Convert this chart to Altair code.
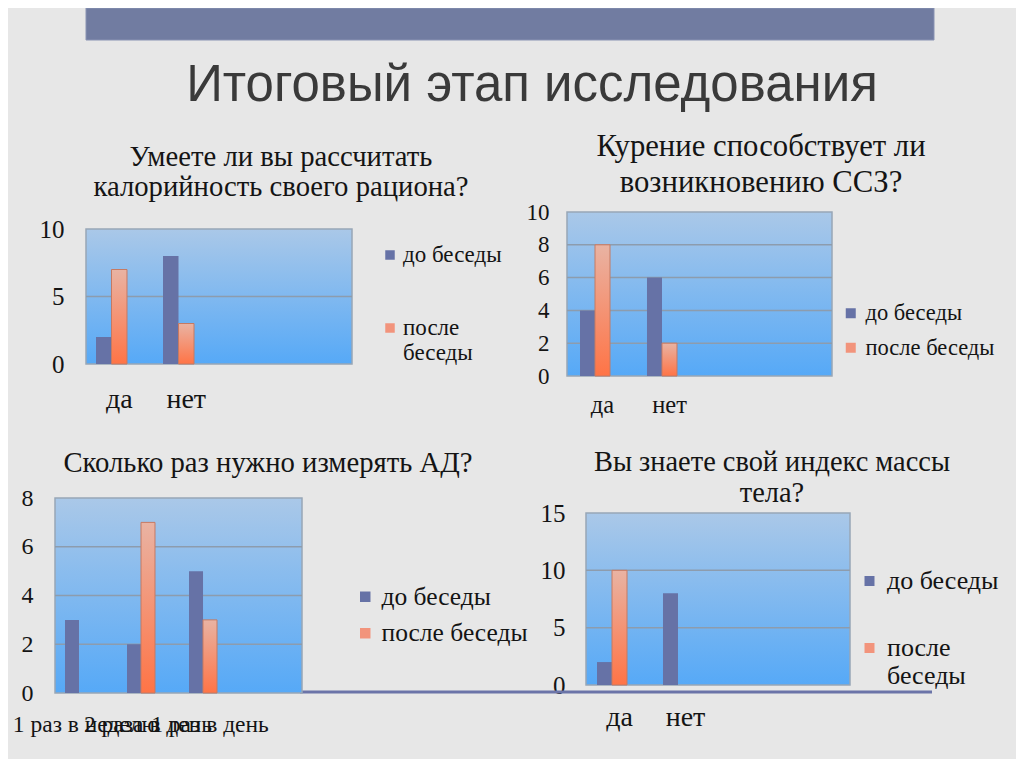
import altair as alt
import pandas as pd

# ---------------- data ----------------
series = ["до беседы", "после беседы"]
slots = series + ["(пусто)"]  # Excel-style empty third series slot
main_title = "Итоговый этап исследования"

p1_title = ["Умеете ли вы рассчитать", "калорийность своего рациона?"]
p1_cats = ["да", "нет"]
p1_before = [2, 8]
p1_after = [7, 3]
p1_ticks = [0, 5, 10]

p2_title = ["Курение способствует ли", "возникновению ССЗ?"]
p2_cats = ["да", "нет"]
p2_before = [4, 6]
p2_after = [8, 2]
p2_ticks = [0, 2, 4, 6, 8, 10]

p3_title = ["Сколько раз нужно измерять АД?"]
p3_cats = ["1 раз в неделю", "2 раза в день", "1 раз в день"]
p3_before = [3, 2, 5]
p3_after = [0, 7, 3]
p3_ticks = [0, 2, 4, 6, 8]

p4_title = ["Вы знаете свой индекс массы", "тела?"]
p4_cats = ["да", "нет"]
p4_before = [2, 8]
p4_after = [10, 0]
p4_ticks = [0, 5, 10, 15]

# ---------------- style ----------------
W, H, M = 1008, 751, 8
SERIF = "Liberation Serif"
SANS = "Liberation Sans"
TXT = "#141414"
BLUE = "#6672a6"
ORANGE = "#f2947c"
GRID = "#8d9cad"
BG_GRAD = alt.Gradient(gradient="linear", x1=0, y1=0, x2=0, y2=1,
                       stops=[alt.GradientStop(color="#aac8e8", offset=0),
                              alt.GradientStop(color="#56a9f7", offset=1)])
OR_GRAD = alt.Gradient(gradient="linear", x1=0, y1=0, x2=0, y2=1,
                       stops=[alt.GradientStop(color="#e9b3a3", offset=0),
                              alt.GradientStop(color="#ff7446", offset=1)])


def px(v):
    return v - M


def text_layer(lines, cx, cy, fs, lh, font, color):
    return alt.Chart(pd.DataFrame({"a": [0]})).mark_text(
        text=lines, font=font, fontSize=fs, lineHeight=lh, align="center",
        baseline="middle", color=color
    ).encode(x=alt.value(px(cx)), y=alt.value(px(cy)))


def panel(title, cats, before, after, ticks, L):
    df = pd.DataFrame({
        "cat": cats * 2,
        "series": [series[0]] * len(cats) + [series[1]] * len(cats),
        "value": before + after,
    })
    ymax = ticks[-1]
    yscale = alt.Scale(domain=[0, ymax], range=[px(L["bottom"]), px(L["top"])], nice=False, zero=True)
    yaxis = alt.Axis(orient="left", offset=-px(L["ylab_x"]), values=ticks, grid=False, domain=False,
                     ticks=False, labelPadding=0, labelFont=SERIF, labelFontSize=L["yfs"],
                     labelColor=TXT, title=None)
    xscale = alt.Scale(domain=cats, range=[px(L["x0"]), px(L["x1"])], paddingInner=L["pin"], paddingOuter=0)
    xaxis = alt.Axis(orient="bottom", offset=px(L["xlab_y"]) - H, labelAngle=0, domain=False, ticks=False,
                     grid=False, labelPadding=0, labelBaseline="middle", labelFont=SERIF,
                     labelFontSize=L["xfs"], labelColor=TXT, title=None, labelLimit=400)
    xoff = alt.XOffset("series:N", scale=alt.Scale(domain=slots))
    lkw = dict(orient="none", legendX=px(L["lx"]), legendY=px(L["ly"]), title=None, symbolType="square",
               symbolSize=L["ss"], symbolStrokeWidth=0, labelFont=SERIF, labelFontSize=L["lfs"],
               labelColor=TXT, labelOffset=L["loff"], rowPadding=L["rp"], padding=0, labelLimit=400)
    if L.get("wrap"):
        lkw["labelExpr"] = "datum.label == 'после беседы' ? ['после', 'беседы'] : datum.label"
    legend = alt.Legend(**lkw)

    bg = alt.Chart(pd.DataFrame({"top": [ymax], "bot": [0]})).mark_rect(
        color=BG_GRAD, stroke="#98a6b6", strokeWidth=1.5
    ).encode(x=alt.value(px(L["left"])), x2=alt.value(px(L["right"])),
             y=alt.Y("top:Q", scale=yscale, axis=yaxis), y2="bot:Q")
    grid = alt.Chart(pd.DataFrame({"t": ticks[1:-1]})).mark_rule(color=GRID, strokeWidth=1.5).encode(
        x=alt.value(px(L["left"])), x2=alt.value(px(L["right"])),
        y=alt.Y("t:Q", scale=yscale, axis=yaxis))
    bars = alt.Chart(df).transform_filter("datum.value > 0").mark_bar().encode(
        x=alt.X("cat:N", scale=xscale, axis=xaxis, sort=cats),
        xOffset=xoff,
        y=alt.Y("value:Q", scale=yscale, axis=yaxis),
        color=alt.Color("series:N", scale=alt.Scale(domain=series, range=[BLUE, ORANGE]), legend=legend))
    over = alt.Chart(df).transform_filter(
        "datum.value > 0 && datum.series == 'после беседы'"
    ).mark_bar(color=OR_GRAD, stroke="#c57a63", strokeWidth=1).encode(
        x=alt.X("cat:N", scale=xscale, axis=xaxis, sort=cats),
        xOffset=xoff,
        y=alt.Y("value:Q", scale=yscale, axis=yaxis))
    ttl = text_layer(title, L["tcx"], L["tcy"], L["tfs"], L["tlh"], SERIF, TXT)
    return alt.layer(bg, grid, bars, over, ttl)


L1 = dict(left=86, right=352, top=229, bottom=364, x0=96, x1=209.5, pin=0.306, ylab_x=64, yfs=25,
          xlab_y=399, xfs=28, lx=378.5, ly=243.5, ss=90, lfs=23, loff=1.5, rp=49, wrap=True,
          tcx=281, tcy=157, tfs=28.7, tlh=30)
L2 = dict(left=567, right=832, top=212, bottom=376, x0=580, x1=692, pin=0.328, ylab_x=549, yfs=23,
          xlab_y=405, xfs=24.5, lx=839.5, ly=302, ss=100, lfs=22.5, loff=3.5, rp=11.5,
          tcx=761, tcy=147, tfs=30.7, tlh=36)
L3 = dict(left=55, right=302, top=498, bottom=693, x0=65, x1=231, pin=0.323, ylab_x=33, yfs=24,
          xlab_y=724, xfs=23.5, lx=352.5, ly=584, ss=110, lfs=25.5, loff=3.5, rp=9.5,
          tcx=268, tcy=463, tfs=28.7, tlh=30)
L4 = dict(left=586, right=850, top=513, bottom=685, x0=597, x1=708, pin=0.318, ylab_x=565, yfs=25,
          xlab_y=717, xfs=28, lx=856.5, ly=568, ss=100, lfs=26, loff=4.5, rp=41, wrap=True,
          tcx=772, tcy=462, tfs=28.4, tlh=31)

header = alt.Chart(pd.DataFrame({"a": [0]})).mark_rect(color="#717ca1", stroke="#8a93b3").encode(
    x=alt.value(px(86)), x2=alt.value(px(934)), y=alt.value(0), y2=alt.value(px(40)))
line = alt.Chart(pd.DataFrame({"a": [0]})).mark_rule(color="#6b74a8", strokeWidth=3).encode(
    x=alt.value(px(300)), x2=alt.value(px(932)), y=alt.value(px(692)))
main = text_layer(main_title, 532, 86, 51, 54, SANS, "#3a3a3a")

chart = alt.layer(
    header, main, line,
    panel(p1_title, p1_cats, p1_before, p1_after, p1_ticks, L1),
    panel(p2_title, p2_cats, p2_before, p2_after, p2_ticks, L2),
    panel(p3_title, p3_cats, p3_before, p3_after, p3_ticks, L3),
    panel(p4_title, p4_cats, p4_before, p4_after, p4_ticks, L4),
).resolve_scale(
    x="independent", y="independent", color="independent", xOffset="independent"
).resolve_legend(color="independent").properties(
    width=W, height=H, padding=0, autosize=alt.AutoSizeParams(type="none"), background="#e7e7e7"
).configure_view(stroke=None).configure_axis(
    labelFont=SERIF, labelColor=TXT
).configure_legend(labelFont=SERIF, labelColor=TXT)

chart.save("out.html", embed_options={"renderer": "svg", "actions": False})
